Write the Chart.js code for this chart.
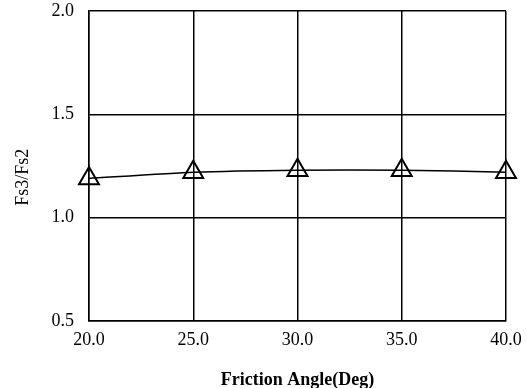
<!DOCTYPE html>
<html>
<head>
<meta charset="utf-8">
<script src="https://cdn.jsdelivr.net/npm/chart.js@4"></script>
<style>
  html, body { margin: 0; padding: 0; background: #fff; }
  #wrap { width: 527px; height: 388px; }
</style>
</head>
<body>
<div id="wrap"><canvas id="myChart" width="527" height="388"></canvas></div>
<script>
const angles = [20, 25, 30, 35, 40];
const ratios = [1.19, 1.22, 1.23, 1.23, 1.22];

const xTicks = [20, 25, 30, 35, 40];
const yTicks = [0.5, 1.0, 1.5, 2.0];

const serif = '"Liberation Serif", "DejaVu Serif", serif';

const data = {
    datasets: [{
        label: 'Fs3/Fs2',
        data: angles.map((a, i) => ({ x: a, y: ratios[i] })),
        borderColor: '#000',
        borderWidth: 1.5,
        backgroundColor: 'rgba(0,0,0,0)',
        pointStyle: 'triangle',
        pointRadius: 11.5,
        pointBorderWidth: 2,
        pointBorderColor: '#000',
        tension: 0.2,
        clip: false,
    }]
};

const config = {
    type: 'line',
    data: data,
    options: {
        responsive: false,
        animation: false,
        layout: {
            autoPadding: false,
            padding: { top: 11, right: 21, left: 0, bottom: 0 }
        },
        plugins: {
            legend: { display: false },
            tooltip: { enabled: false }
        },
        scales: {
            x: {
                type: 'linear',
                min: 20,
                max: 40,
                afterBuildTicks: (scale) => {
                    scale.ticks = xTicks.map(v => ({ value: v }));
                },
                afterFit: (scale) => {
                    // fixed box so the plot area sits where the original one does
                    scale.height = 67;
                    scale.paddingLeft = 0;
                    scale.paddingRight = 21;
                },
                grid: { color: '#000', lineWidth: 1.5, drawTicks: false },
                border: { color: '#000', width: 1.5 },
                ticks: {
                    color: '#000',
                    padding: 8,
                    maxRotation: 0,
                    font: { family: serif, size: 18 },
                    callback: (v) => Number(v).toFixed(1)
                },
                title: {
                    display: true,
                    text: 'Friction Angle(Deg)',
                    color: '#000',
                    padding: { top: 0, bottom: -3 },
                    font: { family: serif, size: 18, weight: 'bold' }
                }
            },
            y: {
                min: 0.5,
                max: 2.0,
                afterBuildTicks: (scale) => {
                    scale.ticks = yTicks.map(v => ({ value: v }));
                },
                afterFit: (scale) => {
                    scale.width = 89;
                    scale.paddingTop = 11;
                    scale.paddingBottom = 0;
                },
                grid: { color: '#000', lineWidth: 1.5, drawTicks: false },
                border: { color: '#000', width: 1.5 },
                ticks: {
                    color: '#000',
                    padding: 15,
                    font: { family: serif, size: 18 },
                    callback: (v) => Number(v).toFixed(1)
                },
                title: {
                    display: true,
                    text: 'Fs3/Fs2     ',
                    color: '#000',
                    padding: { top: 12, bottom: 0 },
                    font: { family: serif, size: 18 }
                }
            }
        }
    }
};

new Chart(document.getElementById('myChart'), config);
</script>
</body>
</html>
